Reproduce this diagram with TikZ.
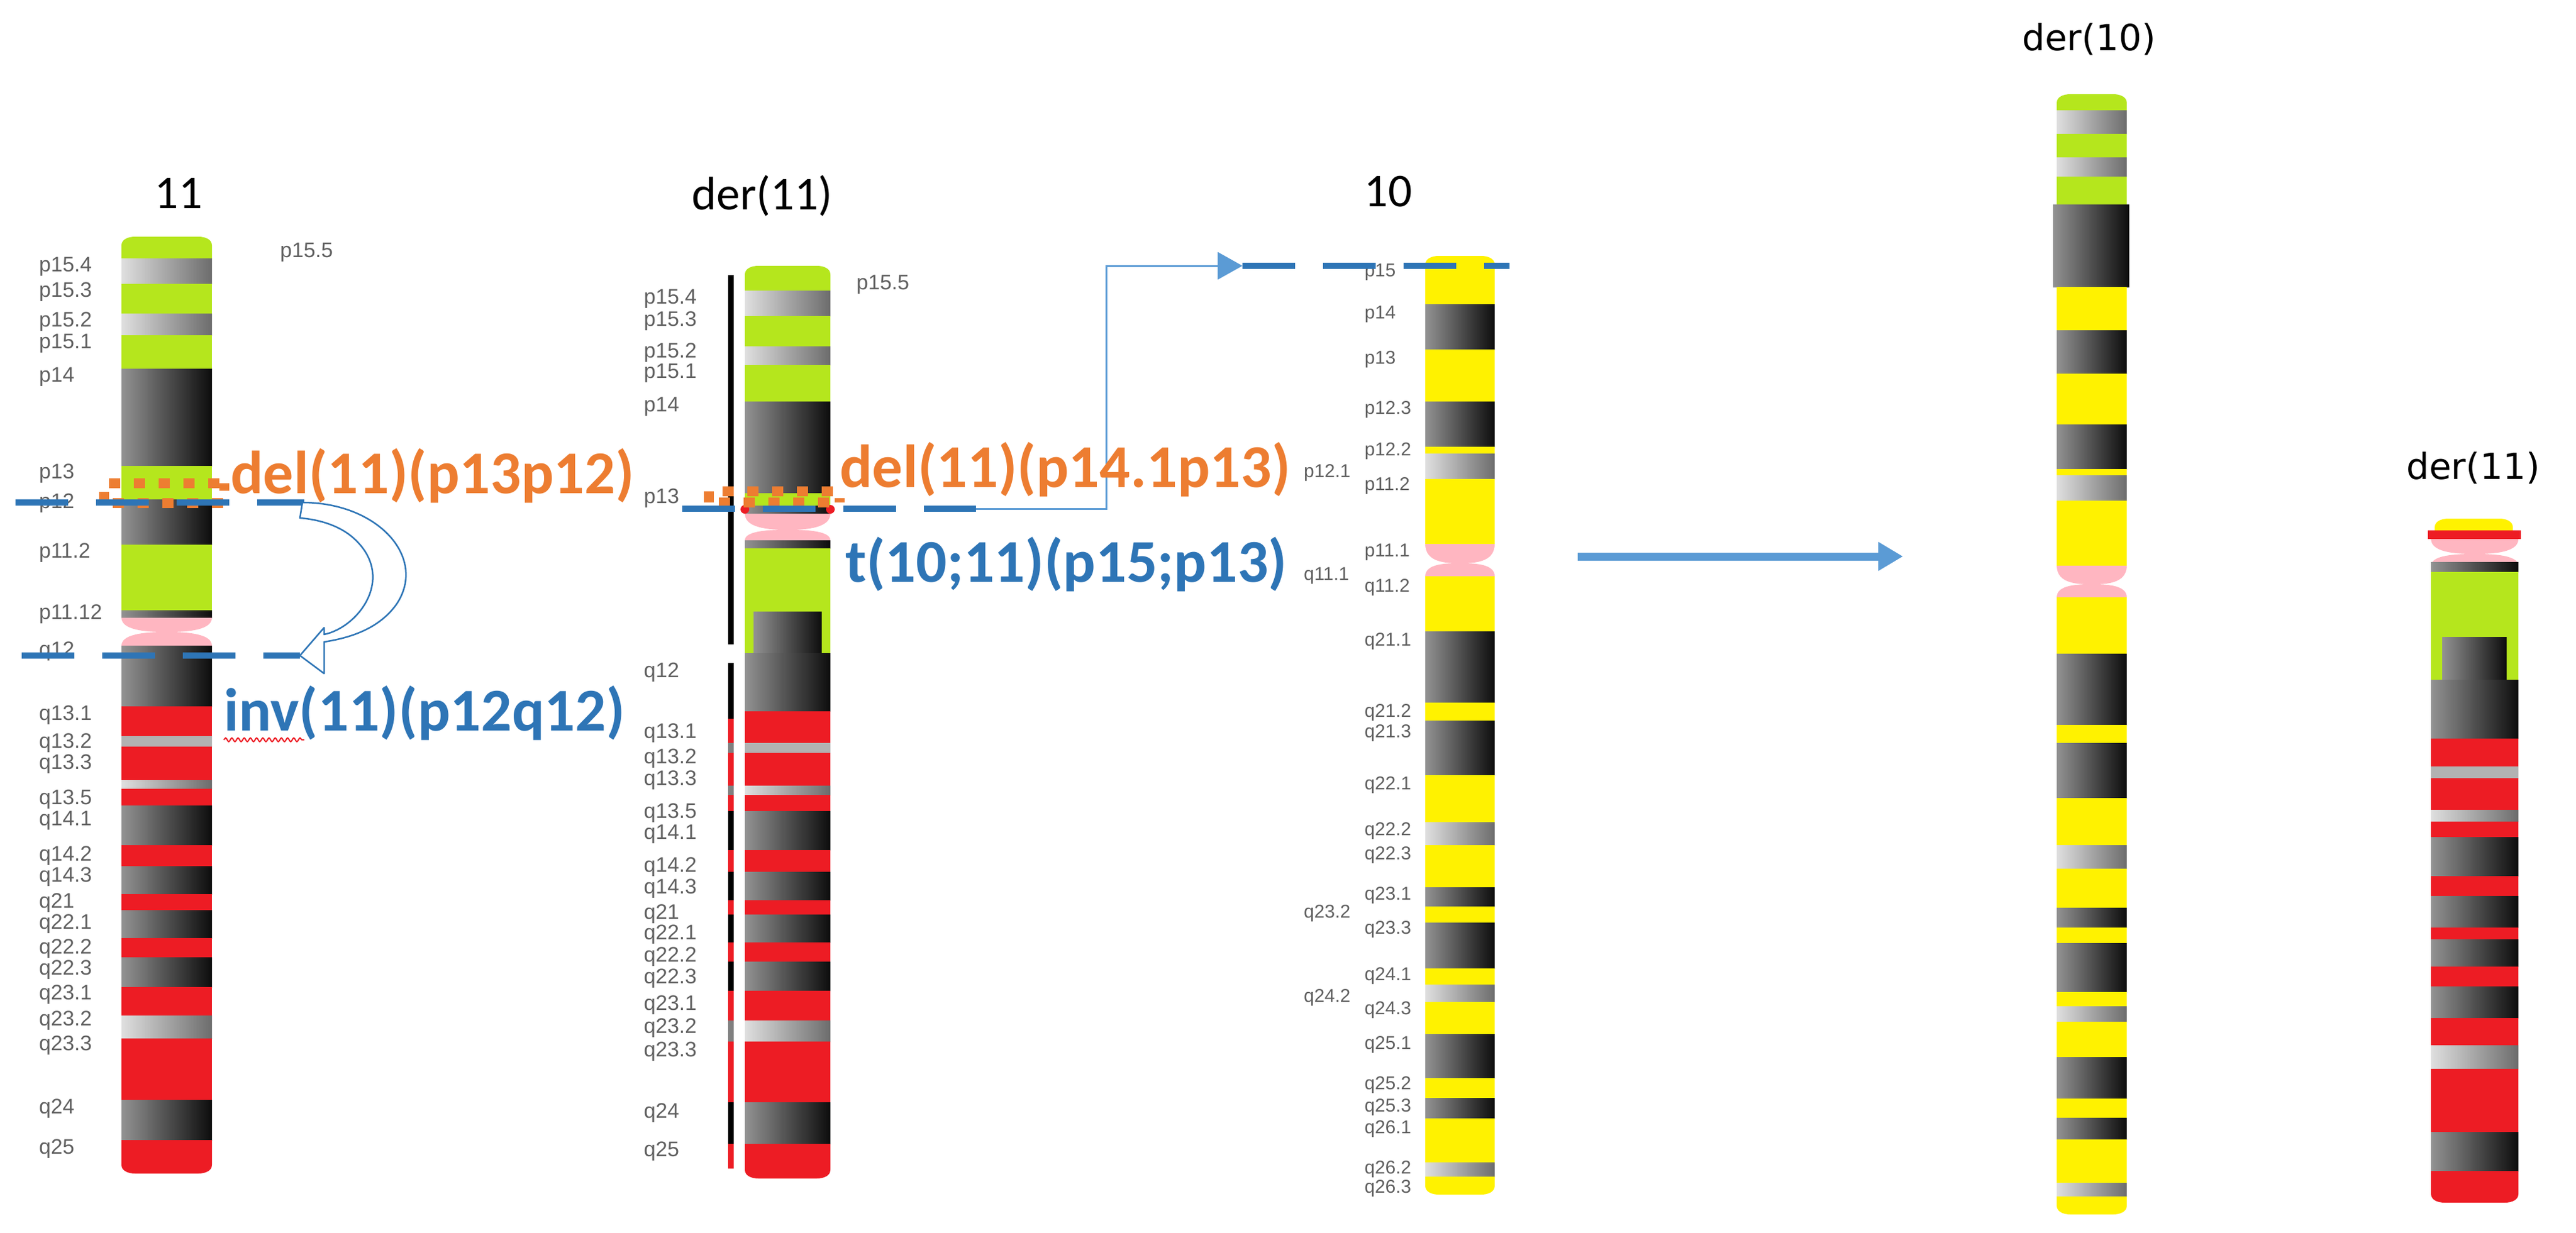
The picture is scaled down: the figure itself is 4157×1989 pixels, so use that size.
\documentclass[tikz,border=0pt]{standalone}
\usepackage{fontspec}
\usetikzlibrary{decorations.pathmorphing,arrows.meta}
\newfontfamily\calfont{Carlito}
\newfontfamily\labfont{Liberation Sans}
\newfontfamily\dvfont{DejaVu Sans}
\definecolor{cG}{RGB}{181,230,29}
\definecolor{cY}{RGB}{255,242,0}
\definecolor{cR}{RGB}{237,28,36}
\definecolor{cP}{RGB}{255,182,193}
\definecolor{cBlue}{RGB}{46,117,182}
\definecolor{cArr}{RGB}{91,155,213}
\definecolor{cOr}{RGB}{237,125,49}
\tikzset{
  G/.style={fill=cG}, Y/.style={fill=cY}, R/.style={fill=cR}, P/.style={fill=cP},
  K/.style={left color=gray!85, middle color=black, right color=black!90!gray},
  S/.style={left color=gray!25, right color=gray!85!black},
  W/.style={left color=gray!60, middle color=gray!8, right color=gray!60},
  lblst/.style={font=\labfont\fontsize{34}{36}\selectfont, text=gray!75!black, inner sep=0pt, anchor=west},
  lblsm/.style={font=\labfont\fontsize{30}{32}\selectfont, text=gray!75!black, inner sep=0pt, anchor=west},
  title/.style={font=\calfont\fontsize{76}{80}\selectfont, inner sep=0pt},
  titledv/.style={font=\dvfont\fontsize{58}{62}\selectfont, inner sep=0pt},
  annot/.style={font=\calfont\bfseries\fontsize{98}{104}\selectfont, inner sep=0pt, anchor=base west},
  bdash/.style={draw=cBlue, line width=10pt, dash pattern=on 85pt off 45pt},
  odot/.style={draw=cOr, line width=16pt, dash pattern=on 18pt off 22pt},
}
\newcommand\bd[5]{\path[#5] (#1,#3) rectangle (#2,#4);}
\newcommand\capT[5]{\path[#5] (#1,#4) -- (#1,#3+14) to[out=90,in=180] (#1+22,#3) -- (#2-22,#3) to[out=0,in=90] (#2,#3+14) -- (#2,#4) -- cycle;}
\newcommand\capB[5]{\path[#5] (#1,#3) -- (#1,#4-14) to[out=-90,in=180] (#1+22,#4) -- (#2-22,#4) to[out=0,in=-90] (#2,#4-14) -- (#2,#3) -- cycle;}
\newcommand\cen[5]{\pgfmathsetmacro\xc{(#1+#2)/2}%
 \fill[cP] (#1,#3) -- (#2,#3) .. controls (#2,#4) and (\xc+20,#4) .. (\xc,#4) .. controls (\xc-20,#4) and (#1,#4) .. (#1,#3) -- cycle;
 \fill[cP] (#1,#5) -- (#2,#5) .. controls (#2,#4) and (\xc+20,#4) .. (\xc,#4) .. controls (\xc-20,#4) and (#1,#4) .. (#1,#5) -- cycle;}
\begin{document}
\begin{tikzpicture}[x=1pt,y=-1pt]
\useasboundingbox[fill=white] (0,0) rectangle (4157,1989);
% ================= chromosome 11 =================
\def\xa{196}\def\xb{342}
\capT{\xa}{\xb}{382}{417}{G}
\bd{\xa}{\xb}{417}{458}{S}\bd{\xa}{\xb}{458}{506}{G}\bd{\xa}{\xb}{506}{541}{S}\bd{\xa}{\xb}{541}{595}{G}
\bd{\xa}{\xb}{595}{752}{K}\bd{\xa}{\xb}{752}{806}{G}\bd{\xa}{\xb}{806}{879}{K}\bd{\xa}{\xb}{879}{985}{G}
\bd{\xa}{\xb}{985}{997}{K}\cen{\xa}{\xb}{997}{1020}{1042}
\bd{\xa}{\xb}{1042}{1140}{K}\bd{\xa}{\xb}{1140}{1188}{R}\bd{\xa}{\xb}{1188}{1205}{W}\bd{\xa}{\xb}{1205}{1259}{R}
\bd{\xa}{\xb}{1259}{1273}{S}\bd{\xa}{\xb}{1273}{1300}{R}\bd{\xa}{\xb}{1300}{1364}{K}\bd{\xa}{\xb}{1364}{1398}{R}
\bd{\xa}{\xb}{1398}{1443}{K}\bd{\xa}{\xb}{1443}{1469}{R}\bd{\xa}{\xb}{1469}{1514}{K}\bd{\xa}{\xb}{1514}{1545}{R}
\bd{\xa}{\xb}{1545}{1593}{K}\bd{\xa}{\xb}{1593}{1639}{R}\bd{\xa}{\xb}{1639}{1676}{S}\bd{\xa}{\xb}{1676}{1775}{R}
\bd{\xa}{\xb}{1775}{1840}{K}\capB{\xa}{\xb}{1840}{1894}{R}
\node[title] (t11) at (288,312) {11};
\node[lblst] (l155a) at (452,407) {p15.5};
\foreach \yy/\tt in {430/p15.4,471/p15.3,519/p15.2,554/p15.1,608/p14,764/p13,812/p12,892/p11.2,991/p11.12,1051/q12,
 1154/q13.1,1199/q13.2,1233/q13.3,1290/q13.5,1324/q14.1,1381/q14.2,1415/q14.3,1457/q21,1491/q22.1,1531/q22.2,
 1565/q22.3,1605/q23.1,1647/q23.2,1687/q23.3,1789/q24,1854/q25}
 \node[lblst] at (63,\yy) {\tt};
% ================= der(11) middle =================
\def\xa{1202}\def\xb{1340}
\capT{\xa}{\xb}{429}{469}{G}
\bd{\xa}{\xb}{469}{510}{S}\bd{\xa}{\xb}{510}{559}{G}\bd{\xa}{\xb}{559}{589}{S}\bd{\xa}{\xb}{589}{648}{G}
\bd{\xa}{\xb}{648}{796}{K}\bd{\xa}{\xb}{796}{816}{G}\bd{\xa}{\xb}{816}{829}{K}
\cen{\xa}{\xb}{829}{855}{872}
\fill[cR] (\xa,822) circle (7);\fill[cR] (\xb,822) circle (7);
\bd{\xa}{\xb}{872}{885}{K}\bd{\xa}{\xb}{885}{1054}{G}\bd{1216}{1326}{987}{1054}{K}
\bd{\xa}{\xb}{1054}{1148}{K}\bd{\xa}{\xb}{1148}{1199}{R}\bd{\xa}{\xb}{1199}{1215}{W}\bd{\xa}{\xb}{1215}{1268}{R}
\bd{\xa}{\xb}{1268}{1283}{S}\bd{\xa}{\xb}{1283}{1309}{R}\bd{\xa}{\xb}{1309}{1372}{K}\bd{\xa}{\xb}{1372}{1407}{R}
\bd{\xa}{\xb}{1407}{1453}{K}\bd{\xa}{\xb}{1453}{1476}{R}\bd{\xa}{\xb}{1476}{1521}{K}\bd{\xa}{\xb}{1521}{1552}{R}
\bd{\xa}{\xb}{1552}{1599}{K}\bd{\xa}{\xb}{1599}{1647}{R}\bd{\xa}{\xb}{1647}{1681}{S}\bd{\xa}{\xb}{1681}{1779}{R}
\bd{\xa}{\xb}{1779}{1846}{K}\capB{\xa}{\xb}{1846}{1902}{R}
% thin strip
\def\xa{1175}\def\xb{1184}
\fill[black] (\xa,444) rectangle (\xb,1040);
\bd{\xa}{\xb}{1070}{1160}{fill=black}\bd{\xa}{\xb}{1160}{1199}{R}\bd{\xa}{\xb}{1199}{1215}{fill=gray}\bd{\xa}{\xb}{1215}{1268}{R}
\bd{\xa}{\xb}{1268}{1283}{fill=gray}\bd{\xa}{\xb}{1283}{1309}{R}\bd{\xa}{\xb}{1309}{1372}{fill=black}\bd{\xa}{\xb}{1372}{1407}{R}
\bd{\xa}{\xb}{1407}{1453}{fill=black}\bd{\xa}{\xb}{1453}{1476}{R}\bd{\xa}{\xb}{1476}{1521}{fill=black}\bd{\xa}{\xb}{1521}{1552}{R}
\bd{\xa}{\xb}{1552}{1599}{fill=black}\bd{\xa}{\xb}{1599}{1647}{R}\bd{\xa}{\xb}{1647}{1681}{fill=gray}\bd{\xa}{\xb}{1681}{1779}{R}
\bd{\xa}{\xb}{1779}{1846}{fill=black}\bd{\xa}{\xb}{1846}{1886}{R}
\node[title] (td11) at (1230,316) {der(11)};
\node[lblst] (l155b) at (1382,459) {p15.5};
\foreach \yy/\tt in {482/p15.4,518/p15.3,569/p15.2,602/p15.1,656/p14,804/p13,
 1085/q12,1183/q13.1,1224/q13.2,1259/q13.3,1312/q13.5,1346/q14.1,1399/q14.2,1434/q14.3,1475/q21,1508/q22.1,
 1544/q22.2,1579/q22.3,1622/q23.1,1659/q23.2,1697/q23.3,1796/q24,1858/q25}
 \node[lblst] at (1039,\yy) {\tt};
% ================= chromosome 10 =================
\def\xa{2300}\def\xb{2412}
\capT{\xa}{\xb}{413}{491}{Y}
\bd{\xa}{\xb}{491}{564}{K}\bd{\xa}{\xb}{564}{648}{Y}\bd{\xa}{\xb}{648}{721}{K}\bd{\xa}{\xb}{721}{732}{Y}
\bd{\xa}{\xb}{732}{773}{S}\bd{\xa}{\xb}{773}{878}{Y}\cen{\xa}{\xb}{878}{909}{930}
\bd{\xa}{\xb}{930}{1019}{Y}\bd{\xa}{\xb}{1019}{1134}{K}\bd{\xa}{\xb}{1134}{1163}{Y}\bd{\xa}{\xb}{1163}{1251}{K}
\bd{\xa}{\xb}{1251}{1327}{Y}\bd{\xa}{\xb}{1327}{1364}{S}\bd{\xa}{\xb}{1364}{1432}{Y}\bd{\xa}{\xb}{1432}{1463}{K}
\bd{\xa}{\xb}{1463}{1489}{Y}\bd{\xa}{\xb}{1489}{1563}{K}\bd{\xa}{\xb}{1563}{1589}{Y}\bd{\xa}{\xb}{1589}{1617}{S}
\bd{\xa}{\xb}{1617}{1669}{Y}\bd{\xa}{\xb}{1669}{1740}{K}\bd{\xa}{\xb}{1740}{1772}{Y}\bd{\xa}{\xb}{1772}{1805}{K}
\bd{\xa}{\xb}{1805}{1876}{Y}\bd{\xa}{\xb}{1876}{1899}{S}\capB{\xa}{\xb}{1899}{1928}{Y}
\node[title] (t10) at (2240,309) {10};
\foreach \yy/\tt in {439/p15,507/p14,580/p13,661/p12.3,728/p12.2,784/p11.2,891/p11.1,948/q11.2,1035/q21.1,
 1150/q21.2,1183/q21.3,1267/q22.1,1341/q22.2,1380/q22.3,1445/q23.1,1500/q23.3,1575/q24.1,1630/q24.3,
 1686/q25.1,1751/q25.2,1787/q25.3,1822/q26.1,1887/q26.2,1918/q26.3}
 \node[lblsm] at (2202,\yy) {\tt};
\foreach \yy/\tt in {763/p12.1,929/q11.1,1474/q23.2,1610/q24.2}
 \node[lblsm] at (2104,\yy) {\tt};
% ================= der(10) =================
\def\xa{3319}\def\xb{3432}
\capT{\xa}{\xb}{152}{178}{G}
\bd{\xa}{\xb}{178}{216}{S}\bd{\xa}{\xb}{216}{254}{G}\bd{\xa}{\xb}{254}{285}{S}\bd{\xa}{\xb}{285}{330}{G}
\bd{3313}{3436}{330}{463}{K}\bd{\xa}{\xb}{463}{533}{Y}\bd{\xa}{\xb}{533}{603}{K}\bd{\xa}{\xb}{603}{685}{Y}
\bd{\xa}{\xb}{685}{757}{K}\bd{\xa}{\xb}{757}{767}{Y}\bd{\xa}{\xb}{767}{808}{S}\bd{\xa}{\xb}{808}{913}{Y}
\cen{\xa}{\xb}{913}{943}{964}
\bd{\xa}{\xb}{964}{1055}{Y}\bd{\xa}{\xb}{1055}{1170}{K}\bd{\xa}{\xb}{1170}{1199}{Y}\bd{\xa}{\xb}{1199}{1288}{K}
\bd{\xa}{\xb}{1288}{1364}{Y}\bd{\xa}{\xb}{1364}{1402}{S}\bd{\xa}{\xb}{1402}{1465}{Y}\bd{\xa}{\xb}{1465}{1497}{K}
\bd{\xa}{\xb}{1497}{1522}{Y}\bd{\xa}{\xb}{1522}{1601}{K}\bd{\xa}{\xb}{1601}{1624}{Y}\bd{\xa}{\xb}{1624}{1649}{S}
\bd{\xa}{\xb}{1649}{1706}{Y}\bd{\xa}{\xb}{1706}{1773}{K}\bd{\xa}{\xb}{1773}{1804}{Y}\bd{\xa}{\xb}{1804}{1839}{K}
\bd{\xa}{\xb}{1839}{1909}{Y}\bd{\xa}{\xb}{1909}{1931}{S}\capB{\xa}{\xb}{1931}{1960}{Y}
\node[titledv] (td10) at (3371,63) {der(10)};
% ================= der(11) right =================
\def\xa{3923}\def\xb{4064}
\capT{3929}{4055}{837}{858}{Y}
\bd{3918}{4068}{856}{870}{R}
\cen{\xa}{\xb}{870}{894}{913}
\bd{\xa}{\xb}{907}{923}{K}\bd{\xa}{\xb}{923}{1097}{G}\bd{3941}{4045}{1028}{1097}{K}
\bd{\xa}{\xb}{1097}{1192}{K}\bd{\xa}{\xb}{1192}{1237}{R}\bd{\xa}{\xb}{1237}{1256}{W}\bd{\xa}{\xb}{1256}{1307}{R}
\bd{\xa}{\xb}{1307}{1326}{S}\bd{\xa}{\xb}{1326}{1351}{R}\bd{\xa}{\xb}{1351}{1414}{K}\bd{\xa}{\xb}{1414}{1446}{R}
\bd{\xa}{\xb}{1446}{1497}{K}\bd{\xa}{\xb}{1497}{1516}{R}\bd{\xa}{\xb}{1516}{1560}{K}\bd{\xa}{\xb}{1560}{1592}{R}
\bd{\xa}{\xb}{1592}{1643}{K}\bd{\xa}{\xb}{1643}{1687}{R}\bd{\xa}{\xb}{1687}{1725}{S}\bd{\xa}{\xb}{1725}{1827}{R}
\bd{\xa}{\xb}{1827}{1890}{K}\capB{\xa}{\xb}{1890}{1941}{R}
\node[titledv] (td11r) at (3991,755) {der(11)};
% ================= annotations chr 11 =================
\draw[odot] (168,812) -- (168,780) -- (362,780);
\draw[odot] (182,812) -- (362,812) -- (362,780);
\coordinate (d1L) at (25,811); \coordinate (d1R) at (491,811);
\coordinate (d2L) at (35,1058); \coordinate (d2R) at (484,1058);
\draw[bdash] (d1L) -- (d1R);
\draw[bdash] (d2L) -- (d2R);
\draw[cBlue, line width=2.5pt, fill=white, line join=round]
 (488,811) .. controls (610,811) and (690,900) .. (640,975) .. controls (615,1010) and (575,1028) .. (523,1036)
 -- (523,1087) -- (d2R) -- (523,1013) -- (523,1024) .. controls (580,1012) and (640,930) .. (570,868)
 .. controls (545,846) and (510,838) .. (484,836) -- cycle;
\node[annot, text=cOr] (delA) at (372,796) {del(11)(p13p12)};
\node[annot, text=cBlue] (invA) at (361,1179) {inv(11)(p12q12)};
\draw[cR, line width=2pt, decorate, decoration={snake, amplitude=3pt, segment length=10pt}] (361,1194) -- (491,1194);
% ================= annotations der(11) =================
\draw[odot] (1144,811) -- (1144,793) -- (1355,793) -- (1355,811);
\draw[odot] (1160,811) -- (1340,811);
\coordinate (d3L) at (1101,821); \coordinate (d3R) at (1575,821);
\draw[bdash] (d3L) -- (d3R);
\coordinate (d4L) at (2005,429); \coordinate (d4R) at (2436,429);
\draw[bdash] (d4L) -- (d4R);
\draw[cArr, line width=3pt, -{Triangle[length=40pt,width=44pt]}] (d3R) -- (1785,821) |- (d4L);
\node[annot, text=cOr] (delB) at (1355,786) {del(11)(p14.1p13)};
\node[annot, text=cBlue] (tB) at (1364,939) {t(10;11)(p15;p13)};
% ================= big arrow =================
\coordinate (bA) at (2546,898); \coordinate (bB) at (3071,898);
\draw[cArr, line width=13pt, -{Triangle[length=40pt,width=44pt]}] (bA) -- (bB);
\end{tikzpicture}
\end{document}
